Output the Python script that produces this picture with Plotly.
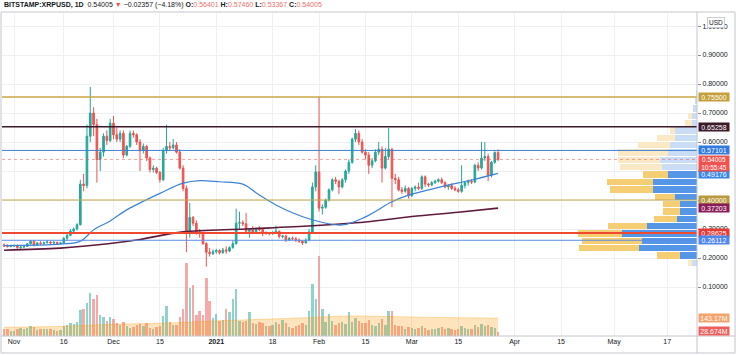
import pandas as pd
import plotly.graph_objects as go

# ---------------- data ----------------
start_date = '2020-10-29'
opens = [
    0.245, 0.242, 0.240,
    # Nov
    0.241, 0.243, 0.236, 0.238, 0.240, 0.249, 0.258, 0.245, 0.252, 0.250,
    0.253, 0.255, 0.252, 0.254, 0.250, 0.252, 0.268, 0.278, 0.293, 0.300,
    0.315, 0.455, 0.450, 0.620, 0.700, 0.660, 0.540, 0.565, 0.620, 0.605,
    # Dec
    0.665, 0.625, 0.610, 0.630, 0.555, 0.585, 0.630, 0.625, 0.600, 0.570,
    0.585, 0.545, 0.505, 0.510, 0.495, 0.470, 0.570, 0.585, 0.580, 0.590,
    0.565, 0.510, 0.440, 0.290, 0.340, 0.320, 0.290, 0.285, 0.250, 0.220, 0.215,
    # Jan
    0.222, 0.226, 0.218, 0.228, 0.224, 0.236, 0.250, 0.320, 0.322, 0.318,
    0.292, 0.300, 0.290, 0.300, 0.298, 0.285, 0.286, 0.284, 0.289, 0.292,
    0.274, 0.276, 0.262, 0.268, 0.266, 0.262, 0.258, 0.252, 0.262, 0.290, 0.445,
    # Feb
    0.497, 0.372, 0.375, 0.400, 0.435, 0.470, 0.465, 0.445, 0.470, 0.500,
    0.530, 0.610, 0.630, 0.600, 0.565, 0.555, 0.520, 0.535, 0.565, 0.575,
    0.510, 0.550, 0.575, 0.475, 0.470, 0.435, 0.430, 0.440,
    # Mar
    0.415, 0.440, 0.445, 0.440, 0.480, 0.455, 0.452, 0.460, 0.465, 0.470,
    0.460, 0.445, 0.450, 0.440, 0.435, 0.430, 0.450, 0.460, 0.465, 0.462,
    0.520, 0.510, 0.545, 0.550, 0.485, 0.530, 0.56401,
]
highs = [
    0.250, 0.247, 0.246,
    0.246, 0.247, 0.240, 0.243, 0.252, 0.262, 0.262, 0.255, 0.258, 0.256,
    0.262, 0.258, 0.258, 0.256, 0.256, 0.272, 0.285, 0.300, 0.305, 0.320,
    0.470, 0.490, 0.660, 0.790, 0.720, 0.680, 0.580, 0.630, 0.640, 0.680,
    0.690, 0.650, 0.640, 0.640, 0.590, 0.640, 0.640, 0.630, 0.610, 0.595,
    0.590, 0.550, 0.520, 0.515, 0.500, 0.580, 0.660, 0.600, 0.610, 0.600,
    0.575, 0.520, 0.450, 0.390, 0.345, 0.330, 0.300, 0.290, 0.255, 0.235, 0.230,
    0.232, 0.230, 0.235, 0.240, 0.240, 0.260, 0.370, 0.360, 0.330, 0.355,
    0.302, 0.310, 0.305, 0.310, 0.302, 0.292, 0.290, 0.292, 0.312, 0.295,
    0.280, 0.280, 0.272, 0.274, 0.272, 0.268, 0.262, 0.268, 0.300, 0.460, 0.520,
    0.755, 0.385, 0.405, 0.440, 0.475, 0.480, 0.470, 0.475, 0.505, 0.540,
    0.615, 0.645, 0.640, 0.610, 0.575, 0.565, 0.545, 0.575, 0.600, 0.585,
    0.580, 0.648, 0.580, 0.490, 0.480, 0.445, 0.450, 0.445,
    0.445, 0.450, 0.460, 0.485, 0.485, 0.460, 0.465, 0.470, 0.475, 0.478,
    0.465, 0.455, 0.458, 0.448, 0.442, 0.520, 0.465, 0.470, 0.472, 0.525,
    0.530, 0.600, 0.600, 0.560, 0.535, 0.568, 0.57460,
]
lows = [
    0.238, 0.236, 0.237,
    0.238, 0.232, 0.230, 0.234, 0.238, 0.246, 0.240, 0.243, 0.245, 0.246,
    0.250, 0.248, 0.248, 0.246, 0.247, 0.250, 0.262, 0.275, 0.285, 0.295,
    0.312, 0.430, 0.440, 0.600, 0.620, 0.460, 0.500, 0.550, 0.590, 0.600,
    0.610, 0.600, 0.600, 0.545, 0.550, 0.580, 0.615, 0.590, 0.500, 0.560,
    0.535, 0.495, 0.495, 0.490, 0.460, 0.465, 0.560, 0.570, 0.575, 0.560,
    0.505, 0.430, 0.220, 0.270, 0.310, 0.280, 0.270, 0.245, 0.170, 0.205, 0.210,
    0.215, 0.212, 0.215, 0.215, 0.220, 0.232, 0.245, 0.300, 0.310, 0.285,
    0.270, 0.285, 0.283, 0.292, 0.275, 0.280, 0.278, 0.280, 0.285, 0.268,
    0.268, 0.255, 0.258, 0.262, 0.255, 0.252, 0.245, 0.250, 0.258, 0.285, 0.430,
    0.360, 0.350, 0.370, 0.395, 0.430, 0.455, 0.420, 0.440, 0.460, 0.490,
    0.525, 0.600, 0.590, 0.560, 0.540, 0.490, 0.510, 0.530, 0.555, 0.460,
    0.505, 0.540, 0.375, 0.455, 0.430, 0.420, 0.425, 0.405,
    0.410, 0.430, 0.435, 0.435, 0.445, 0.445, 0.448, 0.455, 0.460, 0.455,
    0.440, 0.435, 0.435, 0.430, 0.425, 0.425, 0.440, 0.450, 0.455, 0.458,
    0.500, 0.505, 0.535, 0.465, 0.478, 0.525, 0.53367,
]
closes = [
    0.242, 0.240, 0.241,
    0.243, 0.236, 0.238, 0.240, 0.249, 0.258, 0.245, 0.252, 0.250, 0.253,
    0.255, 0.252, 0.254, 0.250, 0.252, 0.268, 0.278, 0.293, 0.300, 0.315,
    0.455, 0.450, 0.620, 0.700, 0.660, 0.540, 0.565, 0.620, 0.605, 0.665,
    0.625, 0.610, 0.630, 0.555, 0.585, 0.630, 0.625, 0.600, 0.570, 0.585,
    0.545, 0.505, 0.510, 0.495, 0.470, 0.570, 0.585, 0.580, 0.590, 0.565,
    0.510, 0.440, 0.290, 0.340, 0.320, 0.290, 0.285, 0.250, 0.220, 0.215, 0.222,
    0.226, 0.218, 0.228, 0.224, 0.236, 0.250, 0.320, 0.322, 0.318, 0.292,
    0.300, 0.290, 0.300, 0.298, 0.285, 0.286, 0.284, 0.289, 0.292, 0.274,
    0.276, 0.262, 0.268, 0.266, 0.262, 0.258, 0.252, 0.262, 0.290, 0.445, 0.497,
    0.372, 0.375, 0.400, 0.435, 0.470, 0.465, 0.445, 0.470, 0.500, 0.530,
    0.610, 0.630, 0.600, 0.565, 0.555, 0.520, 0.535, 0.565, 0.575, 0.510,
    0.550, 0.575, 0.475, 0.470, 0.435, 0.430, 0.440, 0.415,
    0.440, 0.445, 0.440, 0.480, 0.455, 0.452, 0.460, 0.465, 0.470, 0.460,
    0.445, 0.450, 0.440, 0.435, 0.430, 0.450, 0.460, 0.465, 0.462, 0.520,
    0.510, 0.545, 0.550, 0.485, 0.530, 0.56362, 0.54005,
]
volumes_m = [
    55, 50, 40,
    35, 55, 60, 50, 65, 80, 70, 45, 55, 50,
    55, 50, 45, 40, 45, 80, 90, 105, 95, 110,
    210, 215, 270, 350, 300, 335, 165, 150, 120, 150,
    135, 100, 85, 110, 75, 65, 70, 90, 95, 75,
    100, 60, 55, 70, 80, 160, 240, 110, 85, 90,
    150, 220, 595, 390, 410, 172, 197, 172, 470, 280, 140,
    180, 120, 125, 220, 190, 300, 385, 120, 110, 115,
    190, 100, 95, 110, 100, 80, 75, 85, 110, 95,
    130, 105, 70, 65, 80, 90, 100, 85, 205, 425, 300,
    655, 220, 110, 177, 120, 85, 100, 110, 95, 190,
    110, 145, 120, 100, 105, 125, 85, 80, 100, 135,
    90, 205, 197, 90, 80, 75, 55, 70,
    60, 55, 65, 80, 60, 45, 50, 55, 60, 70,
    55, 60, 50, 45, 55, 80, 60, 55, 50, 85,
    70, 95, 80, 90, 70, 65, 28.674,
]

# moving averages
ma50_dates = ['2020-10-29', '2020-11-15', '2020-11-21', '2020-11-25', '2020-11-30',
              '2020-12-05', '2020-12-15', '2020-12-22', '2020-12-27', '2021-01-02',
              '2021-01-09', '2021-01-14', '2021-01-19', '2021-01-24', '2021-01-30',
              '2021-02-08', '2021-02-15', '2021-02-23', '2021-02-28', '2021-03-10',
              '2021-03-19', '2021-03-27']
ma50_vals = [0.243, 0.248, 0.258, 0.297, 0.328, 0.366, 0.423, 0.458, 0.467, 0.463,
             0.455, 0.417, 0.383, 0.356, 0.332, 0.314, 0.342, 0.394, 0.417, 0.446,
             0.469, 0.49176]
ma200_dates = ['2020-10-29', '2020-11-15', '2020-11-30', '2020-12-08', '2020-12-22',
               '2021-01-10', '2021-01-30', '2021-02-15', '2021-03-01', '2021-03-15',
               '2021-03-27']
ma200_vals = [0.227, 0.234, 0.250, 0.262, 0.290, 0.300, 0.311, 0.324, 0.343, 0.358, 0.37203]
vol_ma_dates = ['2020-10-29', '2020-11-15', '2020-12-01', '2020-12-20', '2021-01-01',
                '2021-01-15', '2021-01-28', '2021-02-10', '2021-02-25', '2021-03-10',
                '2021-03-27']
vol_ma_vals = [67, 75, 92, 105, 120, 133, 146, 160, 154, 147, 143.17]

# horizontal levels
level_prices = [0.75500, 0.65258, 0.57101, 0.40000, 0.28625, 0.26112]
level_colors = ['#c9a745', '#3b1a2a', '#3f7fd2', '#c2a94e', '#ef4a30', '#5a8ce8']
level_label_bg = ['#c49f3c', '#3b1a2a', '#3079e0', '#b8993e', '#e53935', '#4f86ea']
level_widths = [1.5, 1.5, 1, 1.2, 2, 1]

# visible-range volume profile (rows by price)
profile_prices = [0.1827, 0.2081, 0.2335, 0.2589, 0.2843, 0.3097, 0.3351, 0.3605,
                  0.3859, 0.4113, 0.4367, 0.4621, 0.4875, 0.5129, 0.5383, 0.5637,
                  0.5891, 0.6145, 0.6399, 0.6653, 0.6907, 0.7161, 0.7415, 0.7669]
profile_up = [50, 170, 580, 550, 750, 500, 200, 170, 170, 220, 440, 440, 290,
              350, 370, 290, 270, 220, 220, 50, 50, 40, 20, 10]
profile_down = [40, 230, 600, 600, 440, 390, 230, 170, 170, 200, 430, 460, 250,
                420, 420, 500, 320, 180, 50, 70, 40, 0, 0, 0]
value_area_rows = (1, 12)
profile_row_height = 0.0254

x_ticks = ['2020-11-01', '2020-11-16', '2020-12-01', '2020-12-15', '2021-01-01',
           '2021-01-18', '2021-02-01', '2021-02-15', '2021-03-01', '2021-03-15',
           '2021-04-01', '2021-04-15', '2021-05-01', '2021-05-17']
x_tick_text = ['Nov', '16', 'Dec', '15', '<b>2021</b>', '18', 'Feb', '15', 'Mar', '15',
               'Apr', '15', 'May', '17']
y_ticks = [0.1, 0.2, 0.3, 0.4, 0.5, 0.6, 0.7, 0.8, 0.9, 1.0]
y_ticks_hidden = [0.4, 0.5]   # fully covered by the price labels in the chart

# ---------------- figure ----------------
FONT = 'Liberation Sans, Arial, sans-serif'
GREEN = '#26a69a'
RED = '#ef5350'

dates = pd.date_range(start_date, periods=len(closes), freq='D')
fig = go.Figure()

vol_colors = ['rgba(38,166,154,0.5)' if c >= o else 'rgba(239,83,80,0.5)'
              for o, c in zip(opens, closes)]
fig.add_trace(go.Bar(x=dates, y=volumes_m, yaxis='y3', marker=dict(color=vol_colors, line=dict(width=0)),
                     width=0.72 * 86400000, hoverinfo='skip'))
fig.add_trace(go.Scatter(x=vol_ma_dates, y=vol_ma_vals, yaxis='y3', mode='lines', fill='tozeroy',
                         fillcolor='rgba(255,152,0,0.26)', line=dict(color='rgba(255,152,0,0.3)', width=1),
                         line_shape='spline', hoverinfo='skip'))

lo, hi = value_area_rows
up_cols = ['#5596e6' if lo <= i <= hi else '#c9def6' for i in range(len(profile_prices))]
dn_cols = ['#f5cd73' if lo <= i <= hi else '#fbe9c6' for i in range(len(profile_prices))]
fig.add_trace(go.Bar(y=profile_prices, x=profile_up, orientation='h', xaxis='x2', yaxis='y',
                     width=profile_row_height * 0.86, marker=dict(color=up_cols, line=dict(width=0)),
                     hoverinfo='skip'))
fig.add_trace(go.Bar(y=profile_prices, x=profile_down, base=profile_up, orientation='h', xaxis='x2',
                     yaxis='y', width=profile_row_height * 0.86,
                     marker=dict(color=dn_cols, line=dict(width=0)), hoverinfo='skip'))

fig.add_trace(go.Scatter(x=ma200_dates, y=ma200_vals, mode='lines', line=dict(color='#5e1a3c', width=1.6),
                         line_shape='spline', hoverinfo='skip'))
fig.add_trace(go.Scatter(x=ma50_dates, y=ma50_vals, mode='lines', line=dict(color='#3b82d6', width=1.2),
                         line_shape='spline', hoverinfo='skip'))

fig.add_trace(go.Candlestick(x=dates, open=opens, high=highs, low=lows, close=closes,
                             increasing=dict(line=dict(color=GREEN, width=1), fillcolor=GREEN),
                             decreasing=dict(line=dict(color=RED, width=1), fillcolor=RED),
                             whiskerwidth=0, hoverinfo='skip'))

shapes = []
for p, c, w in zip(level_prices, level_colors, level_widths):
    shapes.append(dict(type='line', xref='paper', yref='y', x0=0, x1=1, y0=p, y1=p,
                       line=dict(color=c, width=w), layer='above'))
shapes.append(dict(type='line', xref='paper', yref='y', x0=0, x1=1, y0=closes[-1], y1=closes[-1],
                   line=dict(color='rgba(239,83,80,0.55)', width=1, dash='dot'), layer='above'))
# frame and separators
shapes.append(dict(type='rect', xref='paper', yref='paper', x0=-0.0014, x1=1.0547, y0=-0.0526, y1=1.0031,
                   line=dict(color='#c4c6cc', width=1)))
shapes.append(dict(type='line', xref='paper', yref='paper', x0=1, x1=1, y0=-0.0526, y1=1.0031,
                   line=dict(color='#c4c6cc', width=1)))
shapes.append(dict(type='line', xref='paper', yref='paper', x0=-0.0014, x1=1.0547, y0=0, y1=0,
                   line=dict(color='#c4c6cc', width=1)))

annotations = []
lab_font = dict(family=FONT, size=7, color='white')


def price_label(y, text, bg, yref='y', height=8, yanchor='middle', yshift=0, size=7):
    return dict(x=1, xref='paper', y=y, yref=yref, xanchor='left', yanchor=yanchor, xshift=1,
                yshift=yshift, text=text, showarrow=False, bgcolor=bg,
                font=dict(family=FONT, size=size, color='white'),
                width=30, height=height, borderpad=0)


for p, bg in zip(level_prices, level_label_bg):
    annotations.append(price_label(p, f'{p:.5f}', bg))
annotations.append(price_label(ma50_vals[-1], f'{ma50_vals[-1]:.5f}', '#3a86e8', yshift=-1))
annotations.append(price_label(ma200_vals[-1], f'{ma200_vals[-1]:.5f}', '#8a1d58'))
annotations.append(price_label(closes[-1], f'{closes[-1]:.5f}<br>10:55:45', RED, height=15,
                               yanchor='top', yshift=4.5, size=6.5))
annotations.append(price_label(vol_ma_vals[-1], f'{vol_ma_vals[-1]:.2f}M', '#f4a36c', yref='y3'))
annotations.append(price_label(volumes_m[-1], f'{volumes_m[-1]:.3f}M', '#ec5f5c', yref='y3', yshift=1))
annotations.append(dict(x=1.0273, xref='paper', y=0.972, yref='paper', xanchor='center', yanchor='middle',
                        text='USD', showarrow=False, bgcolor='white', bordercolor='#c9ccd2', borderwidth=1,
                        borderpad=1, font=dict(family=FONT, size=6.5, color='#131722')))

chg = closes[-1] - closes[-2]
pct = chg / closes[-2] * 100
redspan = lambda s: f"<span style='color:#ef6f6c'>{s}</span>"
header = (f"<b>BITSTAMP:XRPUSD, 1D</b>  {closes[-1]:.5f} <span style='color:#ef5350'>▼</span> "
          f"{'−' if chg < 0 else '+'}{abs(chg):.5f} ({'−' if pct < 0 else '+'}{abs(pct):.2f}%) "
          f"<b>O:</b>{redspan(f'{opens[-1]:.5f}')} <b>H:</b>{redspan(f'{highs[-1]:.5f}')} "
          f"<b>L:</b>{redspan(f'{lows[-1]:.5f}')} <b>C:</b>{redspan(f'{closes[-1]:.5f}')}")
annotations.append(dict(x=0, xref='paper', y=1.0248, yref='paper', xanchor='left', yanchor='middle',
                        text=header, showarrow=False, font=dict(family=FONT, size=7, color='#131722')))

fig.update_layout(
    width=736, height=355, autosize=False,
    margin=dict(l=2, r=39, t=13, b=19, pad=0),
    paper_bgcolor='white', plot_bgcolor='white',
    showlegend=False, barmode='overlay', bargap=0,
    font=dict(family=FONT, size=7, color='#131722'),
    xaxis=dict(type='date', range=['2020-10-28 09:00', '2021-05-26 00:00'],
               tickvals=x_ticks, ticktext=x_tick_text, tickfont=dict(size=7, color='#131722'),
               showgrid=True, gridcolor='#eef0f4', gridwidth=1, zeroline=False,
               showline=False, ticks='', rangeslider=dict(visible=False), fixedrange=True),
    xaxis2=dict(overlaying='x', anchor='y', range=[6950, 0], visible=False, fixedrange=True),
    yaxis=dict(range=[-0.069, 1.045], side='right', tickvals=y_ticks,
               ticktext=['' if v in y_ticks_hidden else f'{v:.5f}' for v in y_ticks],
               tickfont=dict(size=7, color='#131722'),
               showgrid=True, gridcolor='#eef0f4', gridwidth=1, zeroline=False,
               ticks='outside', ticklen=3, tickcolor='#8a8d94', showline=False, fixedrange=True),
    yaxis3=dict(overlaying='y', range=[-4, 2643], visible=False, fixedrange=True),
    shapes=shapes, annotations=annotations,
)

fig.write_html('out.html')
